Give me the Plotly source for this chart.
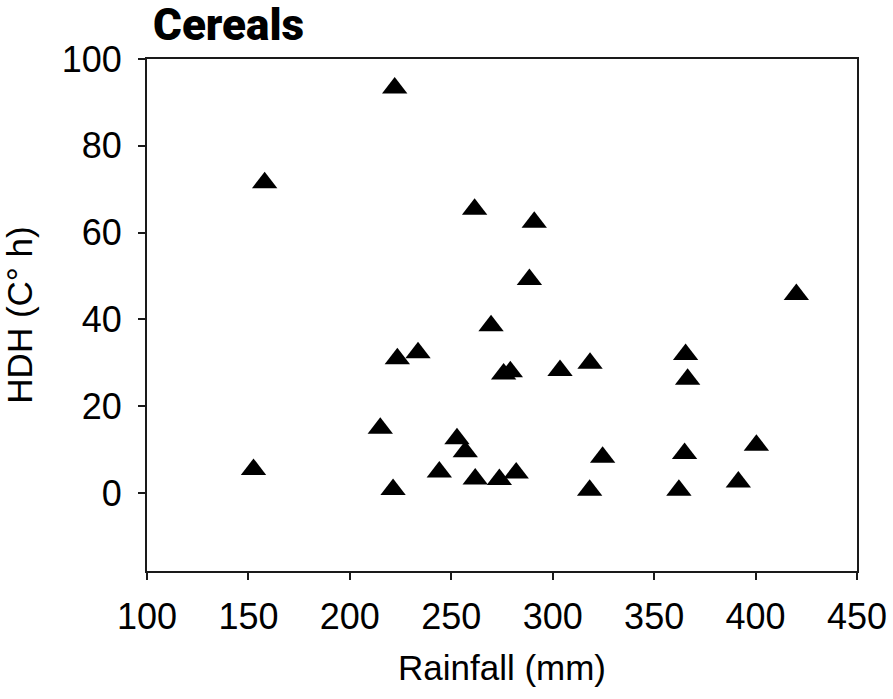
import plotly.graph_objects as go

# Data
rainfall_mm = [158.0, 222.1, 152.5, 215.0, 221.3, 244.1, 252.8, 256.9, 261.8, 273.7,
               282.0, 318.2, 324.6, 362.2, 365.0, 391.5, 400.4, 261.5, 290.9, 288.5,
               269.6, 420.1, 223.4, 233.6, 275.8, 279.1, 303.6, 318.4, 365.5, 366.5]
hdh_ch = [71.5, 93.3, 5.4, 14.9, 0.8, 4.8, 12.5, 9.5, 3.2, 3.1,
          4.6, 0.6, 8.2, 0.6, 9.1, 2.5, 11.0, 65.4, 62.4, 49.2,
          38.5, 45.7, 30.9, 32.3, 27.4, 27.9, 28.2, 29.9, 31.9, 26.2]

x_ticks = [100, 150, 200, 250, 300, 350, 400, 450]
y_ticks = [0, 20, 40, 60, 80, 100]

title_text = "Cereals"
x_title = "Rainfall (mm)"
y_title = "HDH (C° h)"

FONT = "Arial, Liberation Sans, sans-serif"

fig = go.Figure(
    go.Scatter(
        x=rainfall_mm, y=hdh_ch, mode="markers",
        marker=dict(symbol="triangle-up", size=22, color="black",
                    line=dict(width=0)),
        showlegend=False,
    )
)

axis_common = dict(
    showgrid=False, zeroline=False,
    showline=True, linecolor="#1a1a1a", linewidth=2, mirror=True,
    ticks="outside", ticklen=7, tickwidth=2, tickcolor="#1a1a1a",
    tickfont=dict(family=FONT, size=36, color="black"),
)

fig.update_layout(
    width=893, height=699,
    margin=dict(l=147, r=36, t=59, b=128, autoexpand=False),
    paper_bgcolor="white", plot_bgcolor="white",
    title=dict(text=title_text, xref="container", yref="container",
               x=153 / 893, xanchor="left", y=1 - 25 / 699, yanchor="middle",
               font=dict(family="Arial Black, Roboto, Liberation Sans, sans-serif",
                         size=44, color="black", weight=900)),
    xaxis=dict(axis_common, range=[100, 450], tickvals=x_ticks,
               ticklabelstandoff=6,
               title=dict(text=x_title, standoff=19,
                          font=dict(family=FONT, size=35, color="black"))),
    yaxis=dict(axis_common, range=[-18, 100], tickvals=y_ticks,
               ticklabelstandoff=9,
               title=dict(text=y_title, standoff=27,
                          font=dict(family=FONT, size=35, color="black"))),
)

fig.write_html("out.html")
